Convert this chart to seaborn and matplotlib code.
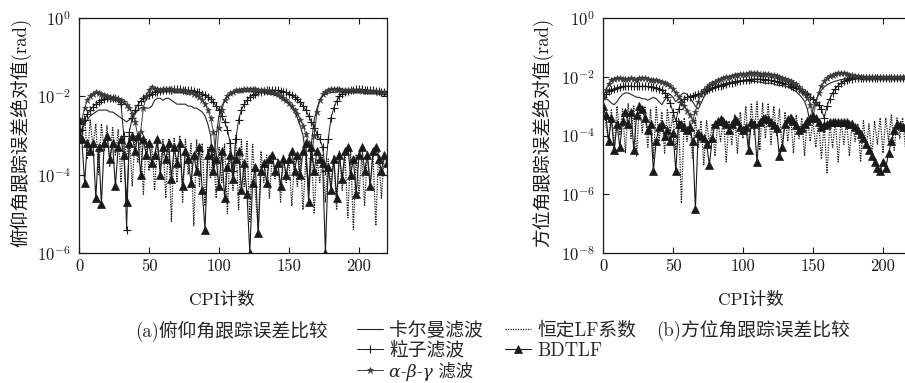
import numpy as np
import matplotlib
matplotlib.use("Agg")
import matplotlib.pyplot as plt
from matplotlib.ticker import NullLocator
import seaborn as sns

# ---------------- data (log10 of |error| in rad, one value every 2 CPI, CPI 0..220) ----------------
cpi_step = 2
xticks = [0, 50, 100, 150, 200]
yticks_a_exp = [0, -2, -4, -6]
yticks_b_exp = [0, -2, -4, -6, -8]

series_names = ["卡尔曼滤波", "粒子滤波", "α-β-γ 滤波", "恒定LF系数", "BDTLF"]

# (a) elevation
kalman_a = [-3.0, -2.85, -2.7, -2.6, -2.5, -2.45, -2.4, -2.35, -2.35, -2.35,
            -2.35, -2.4, -2.4, -2.45, -2.5, -2.55, -2.6, -2.65, -2.6, -2.55,
            -2.45, -2.35, -2.3, -2.3, -2.3, -2.3, -2.25, -2.1, -2.05, -2.05,
            -2.1, -2.05, -2.05, -2.1, -2.15, -2.2, -2.2, -2.2, -2.2, -2.25,
            -2.25, -2.3, -2.3, -2.35, -2.4, -2.5, -2.7, -3.0, -3.8, -3.0,
            -2.5, -2.25, -2.1, -2.0, -1.95, -1.92, -1.9, -1.9, -1.88, -1.88,
            -1.88, -1.88, -1.88, -1.88, -1.9, -1.9, -1.9, -1.92, -1.93, -1.95,
            -1.97, -2.0, -2.05, -2.1, -2.15, -2.2, -2.3, -2.4, -2.55, -2.75,
            -3.0, -3.5, -4.3, -3.2, -2.6, -2.3, -2.1, -2.0, -1.95, -1.92,
            -1.9, -1.9, -1.89, -1.88, -1.88, -1.88, -1.88, -1.88, -1.89, -1.89,
            -1.9, -1.9, -1.9, -1.9, -1.9, -1.9, -1.9, -1.9, -1.9, -1.9,
            -1.9]
particle_a = [-3.1, -2.85, -2.6, -2.45, -2.35, -2.27, -2.2, -2.15, -2.1, -2.07,
              -2.05, -2.04, -2.03, -2.03, -2.06, -2.2, -3.0, -5.4, -2.9, -2.55,
              -2.35, -2.22, -2.12, -2.05, -2.0, -1.96, -1.93, -1.9, -1.88, -1.86,
              -1.85, -1.84, -1.83, -1.83, -1.82, -1.82, -1.82, -1.83, -1.83, -1.84,
              -1.85, -1.86, -1.88, -1.9, -1.93, -1.97, -2.02, -2.08, -2.15, -2.25,
              -2.35, -2.5, -2.65, -2.85, -3.2, -3.9, -3.1, -2.6, -2.35, -2.2,
              -2.1, -2.02, -1.97, -1.93, -1.9, -1.88, -1.86, -1.85, -1.84, -1.84,
              -1.84, -1.85, -1.86, -1.88, -1.9, -1.93, -1.97, -2.02, -2.08, -2.15,
              -2.25, -2.35, -2.5, -2.65, -2.8, -2.95, -3.1, -3.3, -3.9, -3.1,
              -2.55, -2.3, -2.12, -2.0, -1.93, -1.88, -1.86, -1.84, -1.83, -1.82,
              -1.82, -1.82, -1.83, -1.84, -1.85, -1.85, -1.86, -1.87, -1.88, -1.9,
              -1.9]
alphabg_a = [-3.0, -2.6, -2.3, -2.1, -2.0, -1.93, -1.9, -1.92, -1.95, -1.97,
             -2.0, -2.02, -2.03, -2.05, -2.07, -2.1, -2.15, -2.22, -2.3, -2.45,
             -2.65, -3.0, -2.9, -2.3, -2.0, -1.85, -1.75, -1.8, -1.82, -1.83,
             -1.82, -1.82, -1.82, -1.82, -1.83, -1.83, -1.84, -1.85, -1.86, -1.88,
             -1.9, -1.93, -1.97, -2.02, -2.1, -2.2, -2.35, -2.55, -2.9, -3.6,
             -2.8, -2.35, -2.1, -1.98, -1.92, -1.88, -1.85, -1.84, -1.83, -1.82,
             -1.82, -1.82, -1.82, -1.82, -1.83, -1.84, -1.85, -1.86, -1.88, -1.9,
             -1.92, -1.95, -1.98, -2.03, -2.1, -2.17, -2.25, -2.35, -2.45, -2.6,
             -2.75, -2.95, -3.2, -3.6, -3.0, -2.4, -2.1, -1.95, -1.88, -1.84,
             -1.82, -1.82, -1.82, -1.82, -1.83, -1.83, -1.84, -1.84, -1.85, -1.85,
             -1.85, -1.86, -1.86, -1.86, -1.87, -1.87, -1.87, -1.88, -1.88, -1.88,
             -1.88]
constlf_a = [-2.6, -3.2, -2.5, -3.6, -2.6, -3.3, -2.7, -4.0, -2.7, -3.4,
             -2.75, -3.8, -2.8, -3.5, -2.85, -4.2, -2.9, -3.6, -2.95, -4.3,
             -3.0, -3.7, -3.1, -4.5, -3.1, -3.9, -3.2, -4.4, -3.2, -3.8,
             -3.1, -4.6, -3.1, -5.2, -3.05, -4.2, -3.0, -4.7, -3.1, -4.0,
             -3.2, -5.3, -3.1, -4.3, -3.2, -4.8, -3.3, -4.1, -3.4, -4.6,
             -3.3, -4.2, -3.2, -5.0, -3.1, -4.4, -3.0, -4.9, -3.1, -4.3,
             -3.15, -5.2, -3.2, -4.5, -5.4, -3.4, -4.2, -3.5, -4.6, -3.5,
             -4.1, -3.6, -4.7, -3.5, -4.2, -3.6, -4.8, -3.6, -4.3, -3.5,
             -4.9, -3.6, -4.4, -3.4, -5.0, -3.6, -4.2, -3.5, -4.7, -3.6,
             -4.3, -3.5, -4.9, -3.4, -4.4, -3.5, -5.1, -3.4, -5.4, -3.5,
             -4.5, -3.5, -4.8, -3.4, -4.3, -3.5, -5.3, -3.4, -4.6, -3.5,
             -3.6]
bdtlf_a = [-2.6, -3.1, -4.2, -3.2, -3.4, -3.2, -4.6, -3.3, -4.75, -3.2,
           -3.0, -3.6, -3.2, -4.3, -3.3, -3.1, -3.5, -4.7, -3.2, -3.0,
           -3.4, -3.0, -4.0, -3.1, -3.5, -3.2, -3.7, -3.5, -3.1, -4.0,
           -3.3, -3.6, -3.2, -4.1, -3.3, -3.7, -3.2, -4.3, -3.4, -3.6,
           -4.2, -3.5, -3.9, -3.3, -4.4, -5.4, -3.5, -3.3, -3.9, -3.6,
           -4.3, -3.4, -4.6, -3.8, -3.5, -4.1, -3.6, -3.4, -4.4, -3.7,
           -4.5, -6.0, -4.2, -3.8, -5.5, -3.9, -3.7, -4.2, -3.6, -3.5,
           -3.9, -3.7, -4.3, -3.6, -4.0, -3.6, -3.4, -3.9, -3.5, -4.0,
           -3.4, -3.2, -4.7, -3.3, -3.9, -3.4, -3.6, -3.7, -6.0, -3.8,
           -4.4, -3.6, -4.6, -3.5, -4.1, -3.4, -3.3, -4.0, -3.6, -4.5,
           -3.5, -3.3, -3.9, -3.5, -4.3, -3.4, -3.3, -3.6, -3.9, -3.5,
           -3.7]

# (b) azimuth
kalman_b = [-2.7, -2.75, -2.8, -2.9, -2.95, -2.85, -2.7, -2.6, -2.55, -2.55,
            -2.6, -2.65, -2.7, -2.7, -2.75, -2.75, -2.8, -2.75, -2.7, -2.75,
            -2.85, -2.95, -2.8, -2.65, -2.6, -2.7, -2.85, -2.75, -2.6, -2.55,
            -2.6, -2.7, -2.85, -3.0, -3.1, -2.9, -2.7, -2.55, -2.45, -2.4,
            -2.35, -2.3, -2.28, -2.25, -2.22, -2.2, -2.18, -2.17, -2.15, -2.15,
            -2.15, -2.15, -2.15, -2.15, -2.16, -2.17, -2.18, -2.2, -2.22, -2.22,
            -2.22, -2.25, -2.28, -2.3, -2.3, -2.32, -2.35, -2.4, -2.45, -2.5,
            -2.6, -2.7, -2.85, -3.1, -3.6, -3.1, -2.8, -2.6, -2.45, -2.35,
            -2.28, -2.22, -2.18, -2.15, -2.12, -2.1, -2.08, -2.06, -2.05, -2.04,
            -2.03, -2.03, -2.03, -2.03, -2.03, -2.03, -2.03, -2.03, -2.03, -2.03,
            -2.03, -2.03, -2.03, -2.03, -2.03, -2.03, -2.03, -2.03, -2.03, -2.03,
            -2.03]
particle_b = [-2.7, -2.6, -2.5, -2.45, -2.4, -2.37, -2.35, -2.33, -2.32, -2.32,
              -2.32, -2.33, -2.33, -2.33, -2.32, -2.32, -2.33, -2.34, -2.35, -2.37,
              -2.4, -2.45, -2.55, -2.7, -2.9, -3.2, -3.5, -3.1, -2.85, -2.75,
              -2.7, -2.68, -2.65, -2.62, -2.6, -2.55, -2.5, -2.45, -2.42, -2.38,
              -2.35, -2.32, -2.3, -2.27, -2.25, -2.22, -2.2, -2.18, -2.16, -2.14,
              -2.12, -2.1, -2.1, -2.08, -2.08, -2.08, -2.08, -2.08, -2.1, -2.1,
              -2.12, -2.14, -2.16, -2.18, -2.2, -2.23, -2.26, -2.3, -2.34, -2.38,
              -2.43, -2.48, -2.54, -2.6, -2.68, -2.76, -2.85, -2.95, -3.1, -3.4,
              -3.0, -2.75, -2.55, -2.4, -2.3, -2.22, -2.16, -2.12, -2.08, -2.06,
              -2.05, -2.04, -2.04, -2.03, -2.03, -2.03, -2.03, -2.03, -2.03, -2.03,
              -2.03, -2.03, -2.03, -2.03, -2.03, -2.03, -2.03, -2.03, -2.03, -2.03,
              -2.03]
alphabg_b = [-2.7, -2.45, -2.25, -2.12, -2.08, -2.05, -2.05, -2.07, -2.08, -2.06,
             -2.05, -2.07, -2.1, -2.05, -2.03, -2.05, -2.08, -2.1, -2.12, -2.12,
             -2.14, -2.18, -2.2, -2.25, -2.3, -2.4, -2.55, -2.7, -2.85, -3.0,
             -3.15, -3.3, -3.5, -3.2, -2.85, -2.6, -2.45, -2.35, -2.28, -2.22,
             -2.17, -2.12, -2.08, -2.05, -2.02, -2.0, -1.97, -1.95, -1.93, -1.92,
             -1.9, -1.9, -1.88, -1.88, -1.88, -1.88, -1.89, -1.9, -1.9, -1.92,
             -1.93, -1.95, -1.97, -2.0, -2.03, -2.06, -2.1, -2.14, -2.2, -2.26,
             -2.34, -2.44, -2.56, -2.72, -2.95, -3.4, -2.9, -2.55, -2.3, -2.15,
             -2.05, -1.98, -1.93, -1.9, -1.88, -1.87, -1.88, -1.9, -1.93, -1.95,
             -1.97, -1.98, -2.0, -2.0, -2.0, -2.0, -2.0, -2.0, -2.0, -2.0,
             -2.0, -2.0, -2.0, -2.0, -2.0, -2.0, -2.0, -2.0, -2.0, -2.0,
             -2.0]
constlf_b = [-2.7, -3.6, -4.2, -3.1, -4.5, -3.0, -4.0, -3.1, -4.6, -2.9,
             -4.1, -3.0, -4.7, -2.9, -3.9, -3.0, -4.4, -3.1, -4.8, -3.0,
             -4.2, -3.2, -4.6, -3.1, -3.9, -3.3, -4.5, -3.4, -6.3, -3.4,
             -4.2, -3.5, -4.8, -3.4, -4.4, -3.5, -5.0, -3.5, -4.3, -3.6,
             -4.7, -3.5, -4.2, -3.4, -4.9, -3.5, -4.3, -3.3, -4.6, -3.2,
             -4.1, -3.0, -4.4, -2.9, -4.0, -2.85, -4.5, -2.9, -4.1, -2.9,
             -4.3, -3.0, -4.0, -3.1, -4.5, -3.2, -4.2, -3.3, -4.6, -3.3,
             -4.1, -3.4, -4.7, -3.4, -4.2, -3.5, -4.4, -3.5, -4.8, -3.6,
             -5.3, -3.6, -4.4, -3.5, -4.9, -3.5, -4.3, -3.5, -4.7, -3.5,
             -4.2, -3.6, -4.9, -3.5, -4.4, -3.6, -4.7, -3.5, -4.3, -3.4,
             -4.6, -3.4, -4.2, -3.3, -4.5, -3.4, -4.1, -3.4, -4.4, -3.5,
             -3.6]
bdtlf_b = [-3.0, -3.3, -4.2, -3.4, -4.5, -3.6, -4.4, -3.5, -3.2, -3.6,
           -3.2, -4.5, -3.3, -3.0, -3.1, -3.4, -3.8, -3.6, -5.2, -4.2,
           -3.7, -3.6, -4.0, -3.8, -4.2, -3.9, -5.2, -3.6, -3.6, -3.7,
           -3.8, -3.7, -4.2, -6.5, -3.9, -4.0, -4.1, -4.3, -5.0, -4.1,
           -3.6, -3.5, -3.45, -3.5, -3.6, -3.8, -3.6, -3.45, -3.5, -3.7,
           -3.8, -3.7, -4.5, -3.55, -3.6, -4.9, -3.55, -3.45, -3.4, -3.45,
           -3.55, -3.65, -3.75, -4.7, -4.4, -3.6, -3.45, -3.4, -3.5, -3.65,
           -3.8, -3.75, -3.6, -3.5, -3.4, -3.35, -3.4, -3.55, -3.7, -3.65,
           -3.6, -3.55, -3.55, -3.55, -3.55, -3.55, -3.55, -3.55, -3.6, -3.6,
           -3.7, -3.8, -3.95, -4.1, -4.3, -4.5, -4.7, -4.9, -5.1, -5.2,
           -4.9, -5.1, -4.6, -4.2, -3.8, -3.6, -3.65, -3.7, -3.7, -3.75,
           -3.75]

panel_a = [kalman_a, particle_a, alphabg_a, constlf_a, bdtlf_a]
panel_b = [kalman_b, particle_b, alphabg_b, constlf_b, bdtlf_b]

# ---------------- styling ----------------
sns.set_theme(style="ticks")
plt.rcParams["font.family"] = ["cmr10", "Noto Sans CJK SC"]
plt.rcParams["mathtext.fontset"] = "cm"
plt.rcParams["axes.unicode_minus"] = False
plt.rcParams["axes.formatter.use_mathtext"] = True

styles = [
    dict(color="0.15", linewidth=0.8),
    dict(color="k", linewidth=0.7, marker="+", markersize=6, markeredgewidth=0.8, markeredgecolor="k"),
    dict(color="0.25", linewidth=0.7, marker="*", markersize=4.5, markeredgewidth=0.4, markeredgecolor="0.2"),
    dict(color="k", linewidth=0.9, linestyle=(0, (1, 1))),
    dict(color="k", linewidth=0.8, marker="^", markersize=5.5, markeredgewidth=0.5, markeredgecolor="k"),
]

W, H = 905, 383
fig = plt.figure(figsize=(W / 100, H / 100), dpi=100)
axA = fig.add_axes([79 / W, 1 - 253 / H, 308 / W, 235 / H])
axB = fig.add_axes([603 / W, 1 - 253 / H, 308 / W, 235 / H])


def draw(ax, series, ytick_exp, ylabel, ylab_x, xlab_x):
    ax.set_yscale("log")
    for name, vals, st in zip(series_names, series, styles):
        x = np.arange(len(vals)) * cpi_step
        y = np.power(10.0, np.asarray(vals))
        sns.lineplot(x=x, y=y, ax=ax, estimator=None, sort=False, label=name, **st)
    if ax.get_legend() is not None:
        ax.get_legend().remove()
    ax.set_xlim(0, 220)
    ax.set_ylim(10.0 ** min(ytick_exp), 10.0 ** max(ytick_exp))
    ax.set_xticks(xticks, [str(t) for t in xticks])
    ax.set_yticks([10.0 ** e for e in ytick_exp], [r"$10^{%d}$" % e for e in ytick_exp])
    ax.yaxis.set_minor_locator(NullLocator())
    ax.xaxis.set_minor_locator(NullLocator())
    ax.tick_params(direction="in", top=True, right=True, length=4, width=0.8,
                   labelsize=12, colors="k")
    ax.tick_params(axis="y", pad=6)
    ax.tick_params(axis="x", pad=4)
    for sp in ax.spines.values():
        sp.set_color("k")
        sp.set_linewidth(0.9)
    ax.set_ylabel(ylabel, fontsize=13.5, color="k")
    ax.yaxis.label.set_va("center")
    ax.yaxis.set_label_coords(ylab_x, 0.515)
    ax.set_xlabel("CPI计数", fontsize=12.5, color="k")
    ax.xaxis.label.set_va("center")
    ax.xaxis.set_label_coords(xlab_x, -0.2)


draw(axA, panel_a, yticks_a_exp, "俯仰角跟踪误差绝对值(rad)", (21 - 79) / 308, (222 - 79) / 308)
draw(axB, panel_b, yticks_b_exp, "方位角跟踪误差绝对值(rad)", (543 - 603) / 308, (751 - 603) / 308)

fig.text(231 / W, 1 - 331 / H, "(a)俯仰角跟踪误差比较", ha="center", va="center", fontsize=13.5)
fig.text(753 / W, 1 - 331 / H, "(b)方位角跟踪误差比较", ha="center", va="center", fontsize=13.5)

handles, labels = axA.get_legend_handles_labels()
leg = fig.legend(handles, labels, ncol=2, loc="upper left", bbox_to_anchor=(357 / W, 1 - 322 / H),
                 frameon=False, fontsize=13.5, handlelength=1.4, handletextpad=0.3,
                 columnspacing=1.2, labelspacing=0.1, borderaxespad=0, borderpad=0)
for txt in leg.get_texts():
    if txt.get_text().startswith("α"):
        txt.set_fontfamily(["DejaVu Serif", "Noto Sans CJK SC"])
        txt.set_fontstyle("italic")
        txt.set_fontsize(12.5)

fig.savefig("out.png", dpi=100)
